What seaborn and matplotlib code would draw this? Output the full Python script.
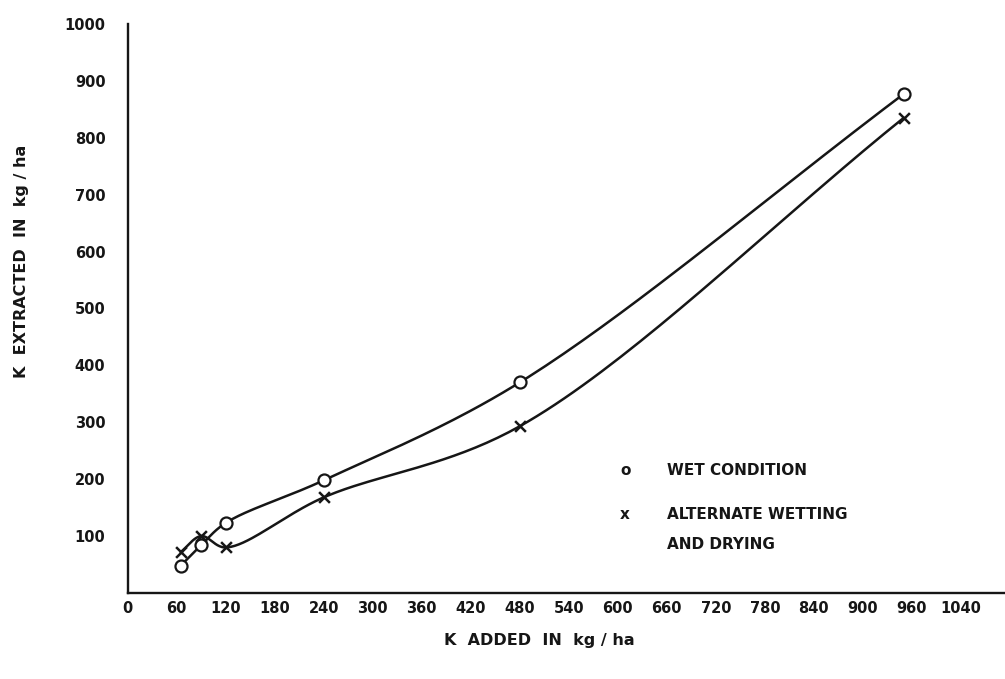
import numpy as np
import pandas as pd
import matplotlib
matplotlib.use("Agg")
import matplotlib.pyplot as plt
import seaborn as sns

# ---- data ----
k_added_wet = [65, 90, 120, 240, 480, 950]
k_extracted_wet = [48, 84, 123, 198, 370, 877]
k_added_alt = [65, 90, 120, 240, 480, 950]
k_extracted_alt = [72, 100, 80, 168, 293, 835]

x_ticks = [0, 60, 120, 180, 240, 300, 360, 420, 480, 540, 600, 660, 720,
           780, 840, 900, 960, 1020]
x_tick_labels = ["0", "60", "120", "180", "240", "300", "360", "420", "480",
                 "540", "600", "660", "720", "780", "840", "900", "960", "1040"]
y_ticks = [100, 200, 300, 400, 500, 600, 700, 800, 900, 1000]
y_tick_labels = [str(v) for v in y_ticks]

legend_labels = ["WET CONDITION", "ALTERNATE WETTING", "AND DRYING"]
x_label = "K  ADDED  IN  kg / ha"
y_label = "K  EXTRACTED  IN  kg / ha"

INK = "#161616"


def smooth(xs, ys, n=40, sx=1.0 / 1074, sy=0.65 / 1000):
    """Centripetal Catmull-Rom curve through the given points."""
    P = np.column_stack([np.asarray(xs, float) * sx, np.asarray(ys, float) * sy])
    P = np.vstack([2 * P[0] - P[1], P, 2 * P[-1] - P[-2]])
    out = []
    for i in range(1, len(P) - 2):
        p0, p1, p2, p3 = P[i - 1], P[i], P[i + 1], P[i + 2]
        t0 = 0.0
        t1 = t0 + np.linalg.norm(p1 - p0) ** 0.5
        t2 = t1 + np.linalg.norm(p2 - p1) ** 0.5
        t3 = t2 + np.linalg.norm(p3 - p2) ** 0.5
        t = np.linspace(t1, t2, n)[:, None]
        a1 = (t1 - t) / (t1 - t0) * p0 + (t - t0) / (t1 - t0) * p1
        a2 = (t2 - t) / (t2 - t1) * p1 + (t - t1) / (t2 - t1) * p2
        a3 = (t3 - t) / (t3 - t2) * p2 + (t - t2) / (t3 - t2) * p3
        b1 = (t2 - t) / (t2 - t0) * a1 + (t - t0) / (t2 - t0) * a2
        b2 = (t3 - t) / (t3 - t1) * a2 + (t - t1) / (t3 - t1) * a3
        c = (t2 - t) / (t2 - t1) * b1 + (t - t1) / (t2 - t1) * b2
        out.append(c if i == len(P) - 3 else c[:-1])
    C = np.vstack(out)
    return C[:, 0] / sx, C[:, 1] / sy


sns.set_theme(style="white")
plt.rcParams["font.family"] = ["DejaVu Sans"]

fig = plt.figure(figsize=(10.05, 6.79), dpi=100)
ax = fig.add_axes([0.127, 0.1267, 0.873, 0.838])

wx, wy = smooth(k_added_wet, k_extracted_wet)
axx, axy = smooth(k_added_alt, k_extracted_alt)
curves = pd.concat([
    pd.DataFrame({"x": wx, "y": wy, "series": "wet"}),
    pd.DataFrame({"x": axx, "y": axy, "series": "alt"}),
])
sns.lineplot(data=curves, x="x", y="y", units="series", estimator=None,
             sort=False, color=INK, linewidth=1.8, ax=ax, legend=False)

pts_wet = pd.DataFrame({"x": k_added_wet, "y": k_extracted_wet})
pts_alt = pd.DataFrame({"x": k_added_alt, "y": k_extracted_alt})
sns.scatterplot(data=pts_wet, x="x", y="y", marker="o", s=75,
                facecolor="white", edgecolor=INK, linewidth=1.6, ax=ax,
                zorder=5, legend=False)
sns.scatterplot(data=pts_alt, x="x", y="y", marker="x", s=60,
                color=INK, linewidth=1.8, ax=ax, zorder=5, legend=False)

ax.set_xlim(0, 1074)
ax.set_ylim(0, 1000)
ax.set_xticks(x_ticks)
ax.set_xticklabels(x_tick_labels, fontweight="bold")
ax.set_yticks(y_ticks)
ax.set_yticklabels(y_tick_labels, fontweight="bold")
ax.set_xlabel("")
ax.set_ylabel("")

for side in ["top", "right"]:
    ax.spines[side].set_visible(False)
for side in ["left", "bottom"]:
    ax.spines[side].set_color(INK)
    ax.spines[side].set_linewidth(1.7)

ax.tick_params(axis="both", direction="in", length=6, width=1.2,
               colors=INK, labelsize=10.5, labelcolor=INK)
ax.tick_params(axis="y", pad=16)
ax.tick_params(axis="x", pad=6)

fig.text(0.537, 0.057, x_label, ha="center", va="center",
         fontsize=11.5, fontweight="bold", color=INK)
fig.text(0.021, 0.615, y_label, ha="center", va="center", rotation=90,
         fontsize=11.5, fontweight="bold", color=INK)

# legend block
ax.text(0.567, 0.216, "o", transform=ax.transAxes, ha="center", va="center",
        fontsize=11, fontweight="bold", color=INK)
ax.text(0.615, 0.216, legend_labels[0], transform=ax.transAxes, ha="left",
        va="center", fontsize=11, fontweight="bold", color=INK)
ax.text(0.567, 0.138, "x", transform=ax.transAxes, ha="center", va="center",
        fontsize=11, fontweight="bold", color=INK)
ax.text(0.615, 0.138, legend_labels[1], transform=ax.transAxes, ha="left",
        va="center", fontsize=11, fontweight="bold", color=INK)
ax.text(0.615, 0.086, legend_labels[2], transform=ax.transAxes, ha="left",
        va="center", fontsize=11, fontweight="bold", color=INK)

fig.savefig("out.png", dpi=100, facecolor="white")
